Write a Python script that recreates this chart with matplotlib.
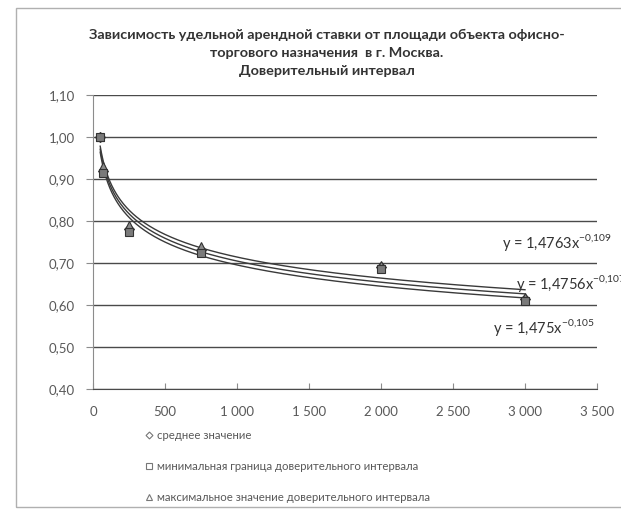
import numpy as np
import matplotlib
matplotlib.use("Agg")
import matplotlib.pyplot as plt
from matplotlib.lines import Line2D
from matplotlib.patches import Rectangle

plt.rcParams['font.family'] = ['Lato', 'DejaVu Sans']

# площадь объекта, кв. м
area = [50, 70, 250, 750, 2000, 3000]
# среднее значение, минимальная и максимальная граница
mean_vals = [1.00, 0.92, 0.78, 0.73, 0.69, 0.615]
min_vals = [1.00, 0.915, 0.775, 0.725, 0.685, 0.61]
max_vals = [1.00, 0.93, 0.79, 0.74, 0.695, 0.62]

# степенные линии тренда (коэффициенты с графика)
trend_a = [1.4756, 1.4763, 1.475]
trend_b = [-0.107, -0.109, -0.105]
trend_labels = ['y = 1,4756x$^{\\mathregular{-0{,}107}}$',
                'y = 1,4763x$^{\\mathregular{-0{,}109}}$',
                'y = 1,475x$^{\\mathregular{-0{,}105}}$']

legend_labels = ['среднее значение',
                 'минимальная граница доверительного интервала',
                 'максимальное значение доверительного интервала']

title = ('Зависимость удельной арендной ставки от площади объекта офисно-\n'
         'торгового назначения  в г. Москва.\n'
         'Доверительный интервал')

xticks = [0, 500, 1000, 1500, 2000, 2500, 3000, 3500]
yticks = [0.40, 0.50, 0.60, 0.70, 0.80, 0.90, 1.00, 1.10]

W, H = 621, 513
fig = plt.figure(figsize=(6.21, 5.13), dpi=100)
ax = fig.add_axes([93 / W, 1 - 389 / H, (597 - 93) / W, (389 - 95) / H])

# рамка диаграммы
fig.patches.append(Rectangle((16 / W, 6 / H), 1.2, 1 - 14 / H, transform=fig.transFigure,
                             fill=False, edgecolor='#b0b0b0', lw=1))

# линии тренда
xs = np.linspace(min(area), max(area), 400)
for a, b in zip(trend_a, trend_b):
    ax.plot(xs, a * xs ** b, color='#3a3a3a', lw=1.0, zorder=3)

ax.plot(area, mean_vals, 'D', ms=5, mfc='#8a8a8a', mec='#333333', mew=0.8, zorder=4)
ax.plot(area, max_vals, '^', ms=6, mfc='#8a8a8a', mec='#333333', mew=0.8, zorder=4)
ax.plot(area, min_vals, 's', ms=5.5, mfc='#7a7a7a', mec='#333333', mew=0.8, zorder=5)

ax.set_xlim(0, 3500)
ax.set_ylim(0.40, 1.10)
ax.set_xticks(xticks)
ax.set_xticklabels([f'{t:,}'.replace(',', ' ') for t in xticks])
ax.set_yticks(yticks)
ax.set_yticklabels([f'{t:.2f}'.replace('.', ',') for t in yticks])
ax.grid(axis='y', color='#4a4a4a', lw=1.0)
ax.set_axisbelow(True)
for s in ['top', 'right']:
    ax.spines[s].set_visible(False)
ax.spines['left'].set_color('#8c8c8c')
ax.spines['bottom'].set_color('#4a4a4a')
ax.tick_params(axis='y', length=5, color='#8c8c8c', labelcolor='#595959', labelsize=9.5, pad=8)
ax.tick_params(axis='x', length=4, direction='in', color='#8c8c8c', labelcolor='#595959',
               labelsize=9.5, pad=12)

# подписи уравнений
ax.text(502 / W, 1 - 243 / H, trend_labels[1], transform=fig.transFigure, fontsize=10.5,
        color='#333333', va='center')
ax.text(516 / W, 1 - 284 / H, trend_labels[0], transform=fig.transFigure, fontsize=10.5,
        color='#333333', va='center')
ax.text(493 / W, 1 - 327 / H, trend_labels[2], transform=fig.transFigure, fontsize=10.5,
        color='#333333', va='center')

fig.text(327 / W, 1 - 53 / H, title, ha='center', va='center', fontsize=10.4,
         fontweight='bold', color='#333333', linespacing=1.6)

handles = [Line2D([], [], ls='none', marker='D', ms=3.5, mfc='white', mec='#777777', mew=0.8),
           Line2D([], [], ls='none', marker='s', ms=4, mfc='white', mec='#777777', mew=0.8),
           Line2D([], [], ls='none', marker='^', ms=4, mfc='white', mec='#777777', mew=0.8)]
fig.legend(handles, legend_labels, loc='upper left', bbox_to_anchor=(146 / W, 1 - 430 / H),
           frameon=False, fontsize=8.2, labelcolor='#595959', handlelength=0.6,
           handletextpad=0.4, labelspacing=1.75, borderaxespad=0, borderpad=0)

fig.savefig('out.png', dpi=100)
